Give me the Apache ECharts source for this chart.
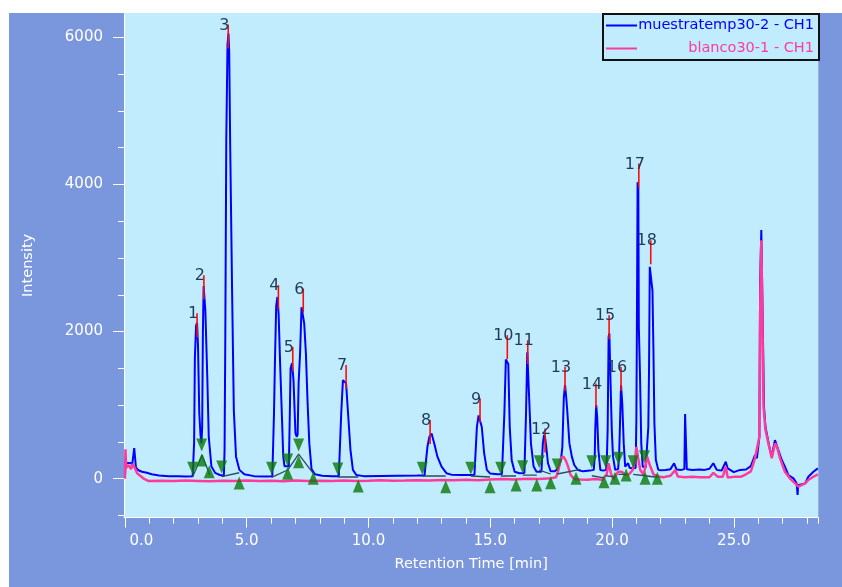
<!DOCTYPE html>
<html><head><meta charset="utf-8">
<script src="https://cdn.jsdelivr.net/npm/echarts@6/dist/echarts.min.js"></script>
<style>
html,body{margin:0;padding:0;background:#fff;width:842px;height:587px;overflow:hidden}
#c{position:absolute;left:9px;top:13px;width:833px;height:574px;background:#7A97DD}
</style></head><body><div id="c"></div>
<script>
const seriesNames = ['muestratemp30-2 - CH1', 'blanco30-1 - CH1'];

// [retention time (min), intensity]
const sampleTrace = [
[0.00,40],[0.03,215],[0.10,235],[0.20,215],[0.30,200],[0.36,205],[0.38,415],[0.42,405],[0.45,150],[0.55,115],[0.70,95],[0.90,80],[1.10,60],[1.40,45],[1.80,35],[2.20,32],[2.50,30],[2.78,35],
[2.81,60],[2.84,500],[2.87,1640],[2.92,2080],[2.96,2120],[3.00,1790],[3.05,900],[3.10,600],[3.14,480],
[3.17,700],[3.20,2000],[3.23,2620],[3.26,2620],[3.30,2290],[3.38,1385],[3.44,570],[3.55,165],[3.70,80],[3.90,50],
[4.06,40],[4.09,400],[4.12,1930],[4.16,4600],[4.21,5900],[4.25,6050],[4.28,5800],[4.32,4550],[4.40,2520],[4.47,930],[4.56,300],[4.70,120],[4.90,60],[5.30,35],[5.80,30],[6.05,32],
[6.08,40],[6.12,900],[6.16,1620],[6.21,2350],[6.26,2470],[6.31,2230],[6.37,1570],[6.44,890],[6.50,300],[6.55,170],[6.62,165],
[6.73,170],[6.77,900],[6.80,1500],[6.86,1570],[6.92,1340],[7.00,620],[7.05,570],
[7.09,600],[7.13,1300],[7.19,1700],[7.25,2330],[7.31,2340],[7.36,2110],[7.43,1700],[7.50,1020],[7.57,480],[7.66,130],[7.80,60],[8.10,40],[8.50,35],[8.78,35],
[8.83,45],[8.88,890],[8.95,1340],[9.02,1365],[9.08,1295],[9.16,890],[9.26,390],[9.36,120],[9.50,50],[9.80,35],[10.50,38],[11.20,40],[12.00,42],[12.30,45],
[12.35,60],[12.42,434],[12.50,570],[12.59,615],[12.70,480],[12.83,300],[13.00,165],[13.20,75],[13.40,55],[13.80,50],[14.20,52],[14.35,55],
[14.38,60],[14.45,700],[14.52,860],[14.58,865],[14.65,706],[14.75,345],[14.86,120],[15.00,70],[15.30,60],[15.48,65],
[15.52,70],[15.58,900],[15.64,1620],[15.70,1640],[15.74,1560],[15.80,700],[15.88,250],[16.00,95],[16.20,75],[16.40,78],
[16.43,80],[16.47,900],[16.52,1720],[16.56,1700],[16.60,1070],[16.67,480],[16.78,165],[16.90,95],[17.10,95],
[17.13,100],[17.16,480],[17.21,595],[17.25,560],[17.30,430],[17.37,210],[17.48,100],[17.65,100],[17.80,150],
[17.90,250],[17.96,430],[18.02,1100],[18.07,1275],[18.12,1100],[18.16,930],[18.25,480],[18.35,300],[18.45,186],[18.60,118],[18.80,100],[19.10,110],[19.25,120],
[19.29,300],[19.31,660],[19.35,1000],[19.39,840],[19.44,390],[19.52,118],[19.65,110],[19.76,120],
[19.79,300],[19.82,660],[19.86,1930],[19.89,1975],[19.94,1295],[19.99,660],[20.04,300],[20.13,120],[20.25,130],
[20.29,300],[20.32,660],[20.37,1270],[20.42,1025],[20.48,480],[20.54,165],[20.60,150],[20.66,210],[20.72,150],[20.85,140],[20.97,150],
[21.00,800],[21.02,2000],[21.05,4030],[21.08,3950],[21.10,2064],[21.15,1385],[21.20,480],[21.26,165],[21.38,150],[21.46,160],
[21.49,700],[21.52,1500],[21.55,2880],[21.61,2900],[21.66,2560],[21.70,1750],[21.74,750],[21.80,255],[21.90,120],[22.00,115],[22.20,118],[22.40,130],[22.55,209],[22.65,125],[22.85,120],[22.97,130],
[23.00,880],[23.04,880],[23.07,130],[23.30,118],[23.60,125],[23.80,120],[24.00,135],[24.16,210],[24.30,120],[24.50,110],[24.67,231],[24.75,140],[25.00,90],[25.26,120],[25.50,125],[25.70,170],[25.87,320],[25.95,280],[26.05,570],
[26.08,2650],[26.13,3380],[26.17,3380],[26.20,1880],[26.24,980],[26.30,706],[26.38,570],[26.46,434],[26.56,300],[26.62,412],[26.69,525],[26.76,548],[26.83,390],[26.97,254],[27.10,163],[27.24,50],[27.45,5],[27.58,-63],[27.62,-221],[27.64,-90],[27.72,-108],[27.93,-63],[28.06,27],[28.27,95],[28.45,141]
];

const blankTrace = [
[0.00,0],[0.02,400],[0.05,150],[0.15,185],[0.25,130],[0.32,200],[0.40,150],[0.50,73],[0.75,5],[0.95,-30],[1.50,-28],[2.00,-32],[2.50,-25],[3.00,-30],[3.50,-35],[4.00,-28],[4.50,-32],[5.00,-25],[5.50,-30],[6.00,-27],[6.50,-33],[7.00,-25],[7.50,-30],[8.00,-28],[8.50,-32],[9.00,-25],[9.50,-30],[10.00,-28],[10.50,-22],[11.00,-28],[11.50,-25],[12.00,-20],[12.50,-25],[13.00,-18],[13.50,-22],[14.00,-15],[14.50,-20],[15.00,-10],[15.50,-5],[16.00,-10],[16.50,0],[17.00,-5],[17.50,5],[17.70,20],[17.80,120],[17.90,280],[18.00,300],[18.10,250],[18.20,160],[18.30,50],[18.45,-5],[18.70,-10],[19.00,-15],[19.30,-5],[19.60,-15],[19.78,60],[19.86,209],[19.95,80],[20.05,-10],[20.15,40],[20.25,95],[20.40,95],[20.55,50],[20.70,60],[20.85,118],[20.95,250],[21.00,434],[21.06,300],[21.16,118],[21.30,50],[21.44,299],[21.55,186],[21.70,60],[21.90,30],[22.10,20],[22.40,40],[22.60,118],[22.70,30],[23.00,20],[23.30,25],[23.60,20],[24.00,20],[24.16,80],[24.35,25],[24.55,27],[24.67,163],[24.75,15],[25.00,25],[25.30,27],[25.50,60],[25.70,100],[25.87,277],[25.95,250],[26.05,570],[26.09,2500],[26.13,3241],[26.17,2290],[26.22,978],[26.30,661],[26.42,480],[26.56,277],[26.69,480],[26.76,450],[26.90,277],[27.10,95],[27.30,5],[27.52,-63],[27.65,-108],[27.93,-63],[28.06,-18],[28.27,27],[28.45,60]
];

const peakLabels = ['1','2','3','4','5','6','7','8','9','10','11','12','13','14','15','16','17','18'];
const peakTimes  = [2.96,3.24,4.24,6.30,6.89,7.32,9.08,12.53,14.58,15.70,16.54,17.25,18.07,19.34,19.88,20.37,21.10,21.59];
const peakTops   = [2250,2766,6174,2630,1792,2585,1544,797,1092,1951,1883,684,1520,1295,2223,1520,4283,3241];

const startMarks = [[2.78,141],[3.15,458],[3.97,159],[6.02,141],[6.68,254],[7.13,458],[8.74,132],[12.21,141],[14.20,141],[15.43,141],[16.33,163],[17.01,231],[17.75,186],[19.17,231],[19.74,231],[20.26,277],[20.87,231],[21.33,299]];
const endMarks   = [[3.15,254],[3.46,95],[4.69,-58],[6.68,73],[7.13,231],[7.73,5],[9.58,-99],[13.17,-109],[14.99,-109],[16.06,-86],[16.91,-86],[17.48,-54],[18.52,5],[19.67,-41],[20.12,5],[20.58,50],[21.36,5],[21.86,5]];

const baselineSegments = [
 [[2.78,27],[3.17,322],[3.48,50]],
 [[3.97,27],[4.69,81]],
 [[6.02,19],[6.68,118],[7.13,335],[7.73,73]],
 [[8.74,23],[9.58,23]],
 [[12.21,37],[13.17,37]],
 [[14.20,37],[14.99,23]],
 [[15.43,37],[16.06,37]],
 [[16.33,50],[16.91,50]],
 [[17.01,118],[17.48,64]],
 [[17.75,64],[18.70,127]],
 [[19.17,40],[19.67,10]],
 [[19.74,40],[20.12,25]],
 [[20.26,60],[20.58,60]],
 [[20.87,60],[21.36,40]],
 [[21.33,40],[21.86,20]]
];

const xMajorTicks = [0,5,10,15,20,25];
const xMinorTicks = [1,2,3,4,6,7,8,9,11,12,13,14,16,17,18,19,21,22,23,24,26,27,28,28.47];
const yMajorTicks = [0,2000,4000,6000];
const yMinorTicks = [-500,500,1000,1500,2500,3000,3500,4500,5000,5500];

const X_MIN = -0.04, X_MAX = 28.47, Y_MIN = -530, Y_MAX = 6330;
const FONT = '"DejaVu Sans", Verdana, sans-serif';
const WHITE = '#ffffff';
const BLUE = '#0000ff', PINK = '#ff3a9a';

const chart = echarts.init(document.getElementById('c'), null, {renderer: 'canvas'});

const series = [
  {name: seriesNames[0], type: 'line', data: sampleTrace, symbol: 'none', showSymbol: false,
   lineStyle: {color: BLUE, width: 2}, itemStyle: {color: BLUE}, z: 2, silent: true, sampling: 'none'},
  {name: seriesNames[1], type: 'line', data: blankTrace, symbol: 'none', showSymbol: false,
   lineStyle: {color: PINK, width: 2.5}, itemStyle: {color: PINK}, z: 3, silent: true, sampling: 'none'}
];
baselineSegments.forEach(seg => series.push({
  type: 'line', data: seg, symbol: 'none', showSymbol: false, silent: true,
  lineStyle: {color: '#2a4b5c', width: 1.3}, z: 4
}));
series.push({type: 'scatter', data: startMarks, symbol: 'triangle', symbolRotate: 180, symbolSize: [11, 13],
  itemStyle: {color: '#0a780a'}, z: 5, silent: true});
series.push({type: 'scatter', data: endMarks, symbol: 'triangle', symbolSize: [11, 13],
  itemStyle: {color: '#0a780a'}, z: 5, silent: true});
series.push({
  type: 'custom', z: 6, silent: true,
  data: peakTimes.map((t, i) => [t, peakTops[i]]),
  renderItem: (params, api) => {
    const p = api.coord([api.value(0), api.value(1)]);
    return {type: 'group', children: [
      {type: 'line', shape: {x1: p[0], y1: p[1], x2: p[0], y2: p[1] + 24},
       style: {stroke: '#ff0a0a', lineWidth: 1.6}},
      {type: 'text', x: p[0] - 4, y: p[1] + 1,
       style: {text: peakLabels[params.dataIndex], textAlign: 'center', textVerticalAlign: 'middle',
               align: 'center', verticalAlign: 'middle', fill: '#1f3a5c', font: '16px ' + FONT}}
    ]};
  }
});

const option = {
  animation: false,
  backgroundColor: 'transparent',
  grid: {left: 115, right: 23.7, top: 0, bottom: 69.3, show: true, backgroundColor: '#c1ecfd',
         borderWidth: 0, containLabel: false, outerBoundsMode: 'none'},
  legend: {
    orient: 'vertical', left: 594, top: 1, padding: [4, 5, 4, 3], itemWidth: 31, itemHeight: 2,
    itemGap: 8, icon: 'rect', backgroundColor: '#c1ecfd', borderColor: '#111', borderWidth: 2,
    selectedMode: false,
    data: [{name: seriesNames[0], textStyle: {color: BLUE}}, {name: seriesNames[1], textStyle: {color: PINK}}],
    formatter: n => '{n|' + n + '}',
    textStyle: {fontFamily: FONT, fontSize: 14.5, rich: {n: {width: 172, align: 'right', fontFamily: FONT, fontSize: 14.5}}}
  },
  xAxis: [
    {type: 'value', min: X_MIN, max: X_MAX, position: 'bottom',
     axisLine: {show: true, onZero: false, lineStyle: {color: WHITE, width: 1}},
     axisTick: {show: true, length: 10, lineStyle: {color: WHITE}, customValues: xMajorTicks},
     axisLabel: {customValues: xMajorTicks, color: WHITE, fontSize: 15, fontFamily: FONT, margin: 16,
                 formatter: v => v === 0 ? '{f|0.0}' : v.toFixed(1),
                 rich: {f: {padding: [0, 0, 0, 33], color: WHITE, fontSize: 15, fontFamily: FONT}}},
     splitLine: {show: false},
     name: 'Retention Time [min]', nameLocation: 'middle', nameGap: 39,
     nameTextStyle: {color: WHITE, fontSize: 14.5, fontFamily: FONT}},
    {type: 'value', min: X_MIN, max: X_MAX, position: 'bottom',
     axisLine: {show: false, onZero: false},
     axisTick: {show: true, length: 6, lineStyle: {color: WHITE}, customValues: xMinorTicks},
     axisLabel: {show: false}, splitLine: {show: false}}
  ],
  yAxis: [
    {type: 'value', min: Y_MIN, max: Y_MAX, position: 'left',
     axisLine: {show: true, onZero: false, lineStyle: {color: WHITE, width: 1}},
     axisTick: {show: true, length: 11, lineStyle: {color: WHITE}, customValues: yMajorTicks},
     axisLabel: {customValues: yMajorTicks, color: WHITE, fontSize: 15, fontFamily: FONT, margin: 21,
                 formatter: v => String(v)},
     splitLine: {show: false},
     name: 'Intensity', nameLocation: 'middle', nameGap: 88, nameRotate: 90,
     nameTextStyle: {color: WHITE, fontSize: 14.5, fontFamily: FONT}},
    {type: 'value', min: Y_MIN, max: Y_MAX, position: 'left',
     axisLine: {show: false, onZero: false},
     axisTick: {show: true, length: 6, lineStyle: {color: WHITE}, customValues: yMinorTicks},
     axisLabel: {show: false}, splitLine: {show: false}}
  ],
  series: series
};
chart.setOption(option);
</script></body></html>
